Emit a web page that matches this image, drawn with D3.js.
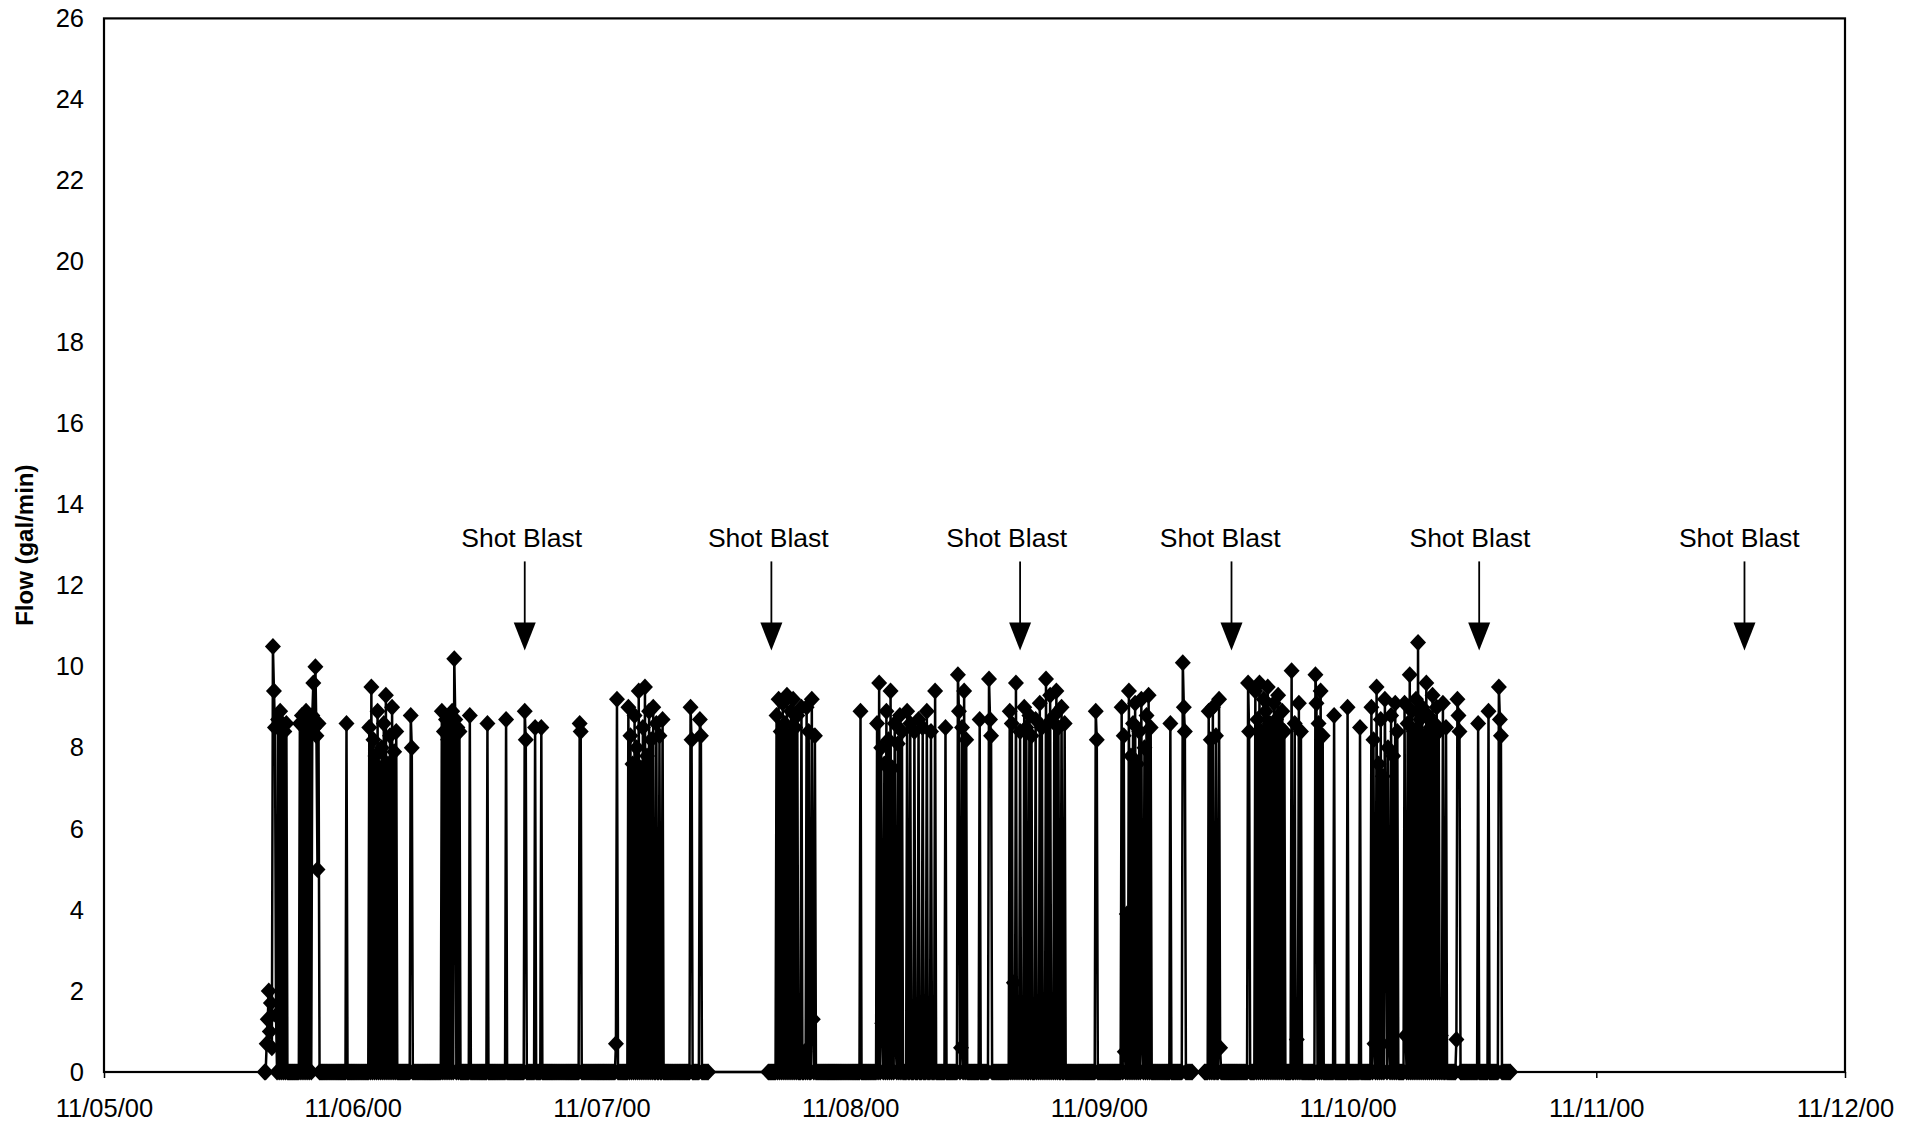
<!DOCTYPE html>
<html>
<head>
<meta charset="utf-8">
<script src="https://cdn.jsdelivr.net/npm/d3@7"></script>
<style>
  html, body { margin: 0; padding: 0; background: #fff; }
  svg { display: block; }
  text { font-family: Arial, "Liberation Sans", sans-serif; fill: #000; }
</style>
</head>
<body>
<svg id="chart" width="1921" height="1127"></svg>
<script>
// ---------------- DATA ----------------
// x-axis tick labels (dates)
const dayTickLabels = ["11/05/00", "11/06/00", "11/07/00", "11/08/00", "11/09/00", "11/10/00", "11/11/00", "11/12/00"];
// y-axis ticks (gal/min)
const yTickValues = [0, 2, 4, 6, 8, 10, 12, 14, 16, 18, 20, 22, 24, 26];
const yAxisTitle = "Flow (gal/min)";

// Logged periods (hours after 11/05/00 00:00) during which the flow reads 0 except at the events below
const recordingPeriods = [[15.5, 58.3], [64.1, 105.0], [106.2, 135.7]];
const sampleStepHours = 0.1;

// Non-zero flow readings [hour after 11/05/00 00:00, gal/min]
const flowEventsPeriod1 = [
  [15.7, 0.7], [15.8, 1.3], [15.9, 2.0], [16.0, 1.0], [16.1, 1.7], [16.2, 0.6], [16.3, 10.5], [16.4, 9.4],
  [16.5, 8.5], [16.6, 1.4], [16.8, 8.7], [17.0, 8.9], [17.2, 8.6], [17.4, 8.4], [17.6, 8.6],
  [18.9, 8.6], [19.1, 8.8], [19.3, 8.5], [19.5, 8.9], [19.7, 8.4], [19.9, 8.7], [20.1, 8.8], [20.2, 9.6],
  [20.3, 8.5], [20.4, 10.0], [20.5, 8.3], [20.6, 5.0], [20.7, 8.6],
  [23.4, 8.6],
  [25.6, 8.5], [25.8, 9.5], [26.0, 8.2], [26.2, 7.8], [26.4, 8.9], [26.6, 7.5], [26.8, 8.0], [27.0, 8.6],
  [27.2, 9.3], [27.4, 7.6], [27.6, 8.3], [27.8, 9.0], [28.0, 7.9], [28.2, 8.4],
  [29.6, 8.8], [29.7, 8.0],
  [32.6, 8.9], [32.8, 8.4], [33.0, 8.7], [33.2, 8.2], [33.4, 8.6], [33.6, 8.9], [33.8, 10.2], [33.9, 8.7],
  [34.1, 8.5], [34.3, 8.4],
  [35.3, 8.8], [37.0, 8.6], [38.8, 8.7], [40.6, 8.9], [40.7, 8.2], [41.6, 8.5], [42.2, 8.5],
  [45.9, 8.6], [46.0, 8.4], [49.4, 0.7], [49.5, 9.2],
  [50.6, 9.0], [50.8, 8.3], [51.0, 7.6], [51.2, 8.8], [51.4, 8.0], [51.6, 9.4], [51.8, 7.5], [52.0, 8.5],
  [52.2, 9.5], [52.4, 7.8], [52.6, 8.9], [52.8, 8.2], [53.0, 9.0], [53.3, 8.6], [53.6, 8.3], [53.9, 8.7],
  [56.6, 9.0], [56.7, 8.2], [57.5, 8.7], [57.6, 8.3]
];
const flowEventsPeriod2 = [
  [64.9, 8.8], [65.1, 9.2], [65.3, 8.4], [65.5, 9.1], [65.7, 8.6], [65.9, 9.3], [66.1, 8.3], [66.3, 8.9],
  [66.5, 9.2], [66.7, 8.5], [66.9, 8.8], [67.3, 9.0], [67.6, 0.5], [67.8, 9.0], [68.0, 8.4], [68.3, 9.2],
  [68.4, 1.3], [68.6, 8.3],
  [73.0, 8.9],
  [74.6, 8.6], [74.8, 9.6], [75.0, 8.0], [75.1, 1.2], [75.3, 7.6], [75.5, 8.9], [75.7, 8.2], [75.9, 9.4],
  [76.1, 7.5], [76.3, 8.6], [76.4, 0.7], [76.6, 8.1], [76.8, 8.8], [77.0, 8.4],
  [77.5, 8.9], [77.8, 8.6], [78.2, 8.4], [78.6, 8.7], [79.0, 8.5], [79.4, 8.9], [79.8, 8.4],
  [80.2, 9.4], [81.2, 8.5],
  [82.4, 9.8], [82.5, 8.9], [82.7, 0.6], [82.8, 8.5], [83.0, 9.4], [83.2, 8.2],
  [84.5, 8.7], [85.4, 9.7], [85.5, 8.7], [85.6, 8.3],
  [87.4, 8.9], [87.6, 8.6], [87.8, 2.2], [88.0, 9.6], [88.2, 1.1], [88.4, 8.4], [88.6, 0.6], [88.8, 9.0],
  [89.0, 8.5], [89.3, 8.8], [89.5, 8.3],
  [89.9, 8.7], [90.1, 0.8], [90.3, 9.1], [90.5, 8.5], [90.7, 0.6], [90.9, 9.7], [91.1, 8.6], [91.3, 9.3],
  [91.5, 0.9], [91.7, 8.8], [91.9, 9.4], [92.1, 8.5], [92.4, 9.0], [92.7, 8.6],
  [95.7, 8.9], [95.8, 8.2],
  [98.2, 9.0], [98.4, 8.3], [98.5, 0.5], [98.7, 3.9], [98.9, 9.4], [99.1, 7.8], [99.3, 8.6], [99.5, 9.1],
  [99.7, 7.6], [99.9, 8.4], [100.1, 9.2], [100.2, 0.8], [100.4, 8.0], [100.6, 8.8], [100.8, 9.3], [101.0, 8.5],
  [102.9, 8.6], [104.1, 10.1], [104.2, 9.0], [104.3, 8.4]
];
const flowEventsPeriod3 = [
  [106.6, 8.9], [106.8, 8.2], [107.0, 9.0], [107.3, 8.3], [107.6, 9.2], [107.7, 0.6],
  [110.4, 9.6], [110.5, 8.4],
  [111.1, 9.4], [111.3, 8.7], [111.5, 9.6], [111.7, 8.4], [111.9, 9.2], [112.1, 8.9], [112.3, 9.5], [112.5, 8.6],
  [112.7, 8.3], [112.9, 9.1], [113.1, 8.7], [113.3, 9.3], [113.5, 8.5], [113.7, 8.9], [113.9, 8.4],
  [114.6, 9.9], [114.9, 8.6], [115.1, 0.8], [115.3, 9.1], [115.5, 8.4],
  [116.9, 9.8], [117.0, 9.1], [117.2, 8.6], [117.4, 9.4], [117.6, 8.3],
  [118.7, 8.8], [120.0, 9.0], [121.2, 8.5],
  [122.3, 9.0], [122.5, 8.2], [122.6, 0.7], [122.8, 9.5], [123.0, 7.6], [123.2, 8.7], [123.4, 7.3], [123.6, 9.2],
  [123.7, 5.5], [123.9, 8.0], [124.0, 0.7], [124.2, 8.8], [124.4, 7.8], [124.6, 9.1], [124.8, 8.4],
  [125.5, 9.1], [125.6, 0.9], [125.8, 8.6], [126.0, 9.8], [126.2, 8.9], [126.4, 8.4], [126.6, 9.2], [126.8, 10.6],
  [127.0, 8.7], [127.2, 9.0], [127.4, 8.3], [127.6, 9.6], [127.8, 8.8], [128.0, 8.5], [128.2, 9.3], [128.4, 8.6],
  [128.6, 9.0], [128.8, 8.4], [129.0, 0.9], [129.2, 9.1], [129.5, 8.5],
  [130.5, 0.8], [130.6, 9.2], [130.7, 8.8], [130.8, 8.4],
  [132.6, 8.6], [133.6, 8.9], [134.6, 9.5], [134.7, 8.7], [134.8, 8.3]
];

// "Shot Blast" annotations (hours after 11/05/00 00:00)
const shotBlastLabel = "Shot Blast";
const shotBlastArrowHours = [40.6, 64.4, 88.4, 108.8, 132.7, 158.3];
const shotBlastLabelHours = [40.3, 64.1, 87.1, 107.7, 131.8, 157.8];

// ---------------- BUILD SERIES ----------------
const parseDay = d3.timeParse("%m/%d/%y");
const dayDates = dayTickLabels.map(parseDay);
const origin = dayDates[0];
const hourToDate = h => new Date(origin.getTime() + h * 3600 * 1000);

const eventMap = new Map();
[...flowEventsPeriod1, ...flowEventsPeriod2, ...flowEventsPeriod3]
  .forEach(([h, v]) => eventMap.set(Math.round(h / sampleStepHours), v));

const series = [];
recordingPeriods.forEach(([a, b]) => {
  const k0 = Math.round(a / sampleStepHours), k1 = Math.round(b / sampleStepHours);
  for (let k = k0; k <= k1; k++) {
    series.push({ t: hourToDate(k * sampleStepHours), v: eventMap.has(k) ? eventMap.get(k) : 0 });
  }
});

// ---------------- DRAW ----------------
const svg = d3.select("#chart");
const plot = { left: 104, right: 1845, top: 18.4, bottom: 1072 };

const x = d3.scaleTime().domain([dayDates[0], dayDates[dayDates.length - 1]]).range([plot.left, plot.right]);
const y = d3.scaleLinear().domain([0, 26]).range([plot.bottom, plot.top]);

// plot frame
svg.append("rect")
  .attr("x", plot.left).attr("y", plot.top)
  .attr("width", plot.right - plot.left).attr("height", plot.bottom - plot.top)
  .attr("fill", "none").attr("stroke", "#000").attr("stroke-width", 2.2);

// x axis
const xAxis = svg.append("g")
  .attr("transform", `translate(0,${plot.bottom})`)
  .call(d3.axisBottom(x).tickValues(dayDates).tickFormat(d3.timeFormat("%m/%d/%y")).tickSize(6).tickPadding(21));
xAxis.select(".domain").remove();
xAxis.selectAll("line").attr("stroke", "#000").attr("stroke-width", 1.5);
xAxis.selectAll("text").attr("font-size", 25.5).attr("font-family", "Arial, 'Liberation Sans', sans-serif");

// y axis
const yAxis = svg.append("g")
  .attr("transform", `translate(${plot.left},0)`)
  .call(d3.axisLeft(y).tickValues(yTickValues).tickSize(0).tickPadding(20));
yAxis.select(".domain").remove();
yAxis.selectAll("text").attr("font-size", 25.5).attr("font-family", "Arial, 'Liberation Sans', sans-serif");

// y title
svg.append("text")
  .attr("transform", `translate(33,${(plot.top + plot.bottom) / 2}) rotate(-90)`)
  .attr("text-anchor", "middle")
  .attr("font-size", 24).attr("font-weight", "bold")
  .text(yAxisTitle);

// data line
const line = d3.line().x(d => x(d.t)).y(d => y(d.v));
svg.append("path")
  .datum(series)
  .attr("d", line)
  .attr("fill", "none").attr("stroke", "#000").attr("stroke-width", 2.5)
  .attr("stroke-linejoin", "miter");

// diamond markers
const diamond = "M0,-8.5L8,0L0,8.5L-8,0Z";
svg.append("g").selectAll("path")
  .data(series)
  .join("path")
  .attr("d", diamond)
  .attr("transform", d => `translate(${x(d.t)},${y(d.v)})`)
  .attr("fill", "#000");

// annotations
const ann = svg.append("g");
shotBlastArrowHours.forEach((h, i) => {
  const ax = x(hourToDate(h));
  const lx = x(hourToDate(shotBlastLabelHours[i]));
  const shaftTop = y(12.6), tip = y(10.4), headH = 28, headW = 11;
  ann.append("text")
    .attr("x", lx).attr("y", y(12.95))
    .attr("text-anchor", "middle").attr("font-size", 26.5)
    .text(shotBlastLabel);
  ann.append("line")
    .attr("x1", ax).attr("x2", ax).attr("y1", shaftTop).attr("y2", tip - headH + 2)
    .attr("stroke", "#000").attr("stroke-width", 1.8);
  ann.append("path")
    .attr("d", `M${ax - headW},${tip - headH}L${ax + headW},${tip - headH}L${ax},${tip}Z`)
    .attr("fill", "#000");
});
</script>
</body>
</html>
